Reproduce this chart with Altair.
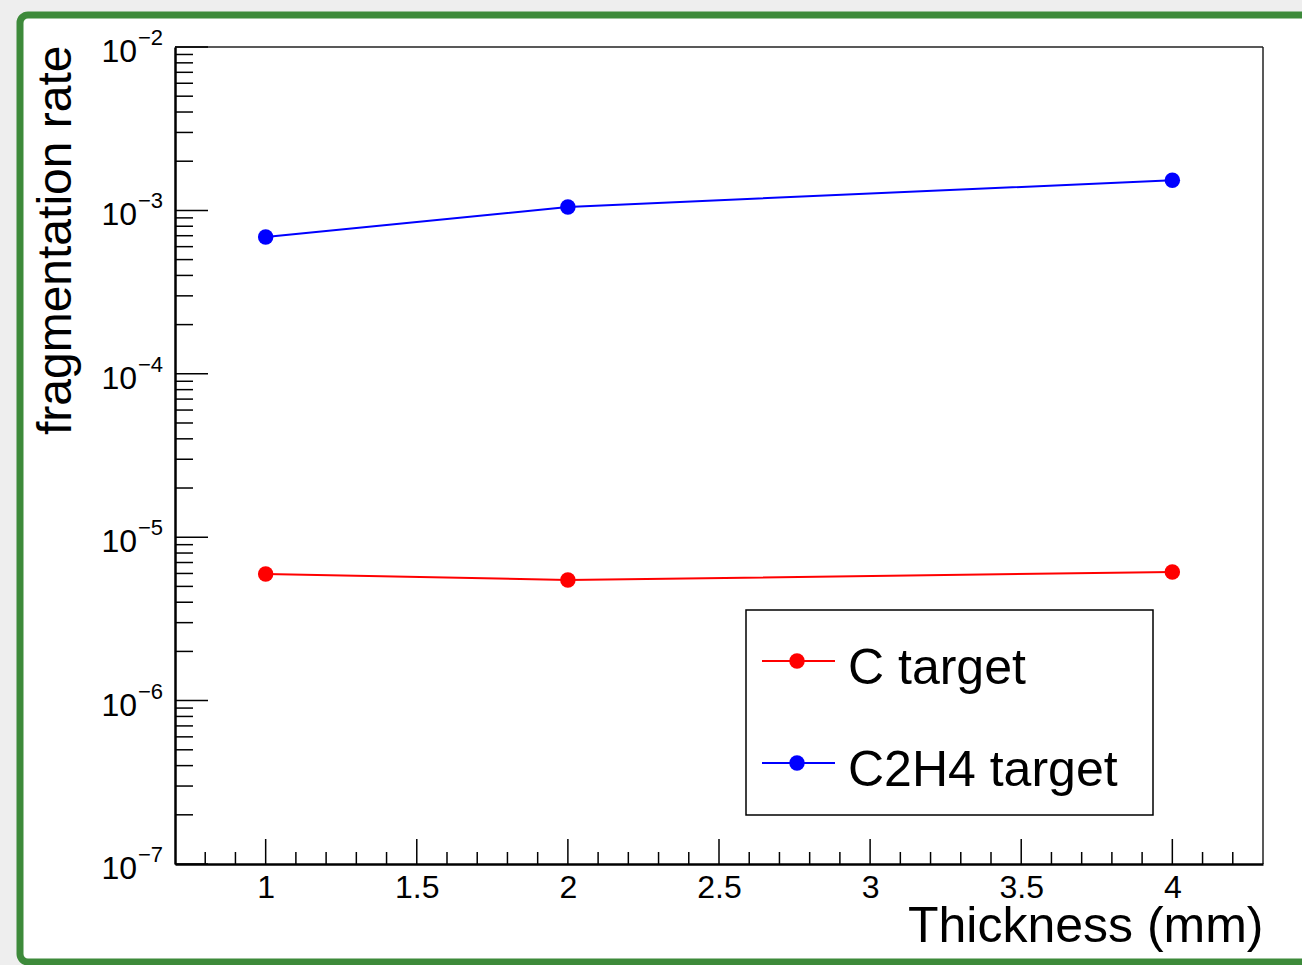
import altair as alt
import pandas as pd

FONT = "Liberation Sans"

# ---- data ----
thickness = [1, 2, 4]
c_rate = [5.96e-6, 5.47e-6, 6.12e-6]
c2h4_rate = [6.87e-4, 1.05e-3, 1.53e-3]
series_names = ["C target", "C2H4 target"]
series_colors = ["#ff0000", "#0000ff"]

x_major = [1, 1.5, 2, 2.5, 3, 3.5, 4]
x_minor = [round(0.8 + 0.1 * i, 1) for i in range(35)]
x_minor = [v for v in x_minor if v not in x_major]
y_decades = [1e-2, 1e-3, 1e-4, 1e-5, 1e-6, 1e-7]
y_exponents = ["\u22122", "\u22123", "\u22124", "\u22125", "\u22126", "\u22127"]
y_minor = [m * d for d in [1e-7, 1e-6, 1e-5, 1e-4, 1e-3] for m in range(2, 10)]

W, H = 1088, 817

rows = []
for name, vals in zip(series_names, [c_rate, c2h4_rate]):
    for t, v in zip(thickness, vals):
        rows.append({"thickness": t, "rate": v, "series": name})
df = pd.DataFrame(rows)

xs = alt.Scale(domain=[0.7, 4.3], nice=False, zero=False)
ys = alt.Scale(type="log", domain=[1e-7, 1e-2], nice=False)

x_axis = alt.Axis(
    values=x_major, format="~g", labelFontSize=32, labelFont=FONT, labelColor="black",
    labelBaseline="alphabetic", labelPadding=33, labelFlush=False, labelOverlap=False,
    ticks=False, tickSize=0, grid=False, domain=True, domainColor="black", domainWidth=2.5,
    title="Thickness (mm)", titleFontSize=50, titleFont=FONT, titleFontWeight="normal",
    titleColor="black", titleAlign="right", titleBaseline="alphabetic", titleX=W, titleY=77,
    zindex=1,
)
y_axis = alt.Axis(
    labels=False, ticks=False, tickSize=0, grid=False, domain=True, domainColor="black",
    domainWidth=2.5, title="fragmentation rate", titleFontSize=48, titleFont=FONT,
    titleFontWeight="normal", titleColor="black", titleAngle=270, titleAlign="right",
    titleBaseline="alphabetic", titleX=-105, titleY=-2, zindex=1,
)

one = alt.Data(values=[{}])

frame = alt.Chart(one).mark_rect(
    fill="white", stroke="#3d8a3a", strokeWidth=7, cornerRadius=8
).encode(x=alt.value(-155), x2=alt.value(1135), y=alt.value(-32), y2=alt.value(915))

top_line = alt.Chart(one).mark_rule(color="#222", strokeWidth=1.5).encode(
    x=alt.value(0), x2=alt.value(W), y=alt.value(0))
right_line = alt.Chart(one).mark_rule(color="#222", strokeWidth=1.5).encode(
    x=alt.value(W), y=alt.value(0), y2=alt.value(H))

xmin_df = pd.DataFrame({"v": x_minor})
xmaj_df = pd.DataFrame({"v": x_major})
ymin_df = pd.DataFrame({"v": y_minor})
ymaj_df = pd.DataFrame({"v": y_decades, "exp": y_exponents, "base": ["10"] * len(y_decades)})

x_minor_ticks = alt.Chart(xmin_df).mark_rule(color="black", strokeWidth=1.5).encode(
    x=alt.X("v:Q", scale=xs, axis=x_axis), y=alt.value(H), y2=alt.value(H - 12))
x_major_ticks = alt.Chart(xmaj_df).mark_rule(color="black", strokeWidth=1.5).encode(
    x=alt.X("v:Q", scale=xs, axis=x_axis), y=alt.value(H), y2=alt.value(H - 25))
y_minor_ticks = alt.Chart(ymin_df).mark_rule(color="black", strokeWidth=1.5).encode(
    y=alt.Y("v:Q", scale=ys, axis=y_axis), x=alt.value(0), x2=alt.value(18))
y_major_ticks = alt.Chart(ymaj_df).mark_rule(color="black", strokeWidth=1.5).encode(
    y=alt.Y("v:Q", scale=ys, axis=y_axis), x=alt.value(0), x2=alt.value(33))

y_labels = alt.Chart(ymaj_df).mark_text(
    font=FONT, fontSize=32, align="right", baseline="alphabetic", dy=15, color="black"
).encode(y=alt.Y("v:Q", scale=ys, axis=y_axis), x=alt.value(-38), text="base:N")
y_sup = alt.Chart(ymaj_df).mark_text(
    font=FONT, fontSize=22, align="left", baseline="alphabetic", dy=-2, color="black"
).encode(y=alt.Y("v:Q", scale=ys, axis=y_axis), x=alt.value(-37), text="exp:N")

color = alt.Color("series:N", scale=alt.Scale(domain=series_names, range=series_colors), legend=None)

lines = alt.Chart(df).mark_line(strokeWidth=2).encode(
    x=alt.X("thickness:Q", scale=xs, axis=x_axis),
    y=alt.Y("rate:Q", scale=ys, axis=y_axis),
    color=color, detail="series:N")
points = alt.Chart(df).mark_point(filled=True, shape="circle", size=240, opacity=1).encode(
    x=alt.X("thickness:Q", scale=xs, axis=x_axis),
    y=alt.Y("rate:Q", scale=ys, axis=y_axis),
    color=color)

legend_box = alt.Chart(one).mark_rect(fill="white", stroke="black", strokeWidth=1.5).encode(
    x=alt.value(571), x2=alt.value(978), y=alt.value(563), y2=alt.value(768))

legend_layers = [legend_box]
for i, (name, col) in enumerate(zip(series_names, series_colors)):
    yc = 614 + 102 * i
    legend_layers.append(alt.Chart(one).mark_rule(color=col, strokeWidth=2).encode(
        x=alt.value(587), x2=alt.value(660), y=alt.value(yc)))
    legend_layers.append(alt.Chart(one).mark_point(filled=True, shape="circle", size=240,
                                                   opacity=1, color=col).encode(
        x=alt.value(622), y=alt.value(yc)))
    legend_layers.append(alt.Chart(one).mark_text(
        text=name, font=FONT, fontSize=50, align="left", baseline="alphabetic", color="black"
    ).encode(x=alt.value(673), y=alt.value(yc + 23)))

chart = alt.layer(
    frame, top_line, right_line,
    x_minor_ticks, x_major_ticks, y_minor_ticks, y_major_ticks,
    y_labels, y_sup, lines, points, *legend_layers,
).properties(
    width=W, height=H,
    padding={"left": 175, "top": 47, "right": 39, "bottom": 101},
    autosize=alt.AutoSizeParams(type="none"),
    background="#eeeeee",
).configure_view(strokeWidth=0)

chart.save("out.html", embed_options={"renderer": "svg", "actions": False})
